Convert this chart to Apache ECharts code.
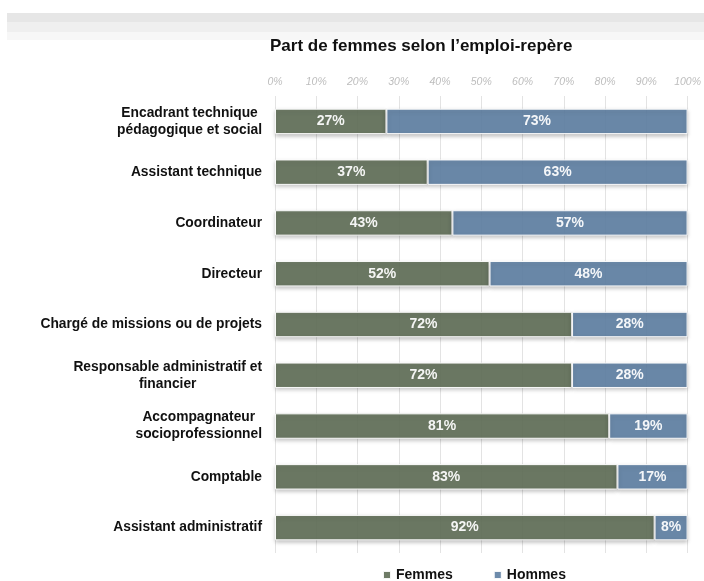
<!DOCTYPE html>
<html><head><meta charset="utf-8">
<script src="https://cdn.jsdelivr.net/npm/echarts@6/dist/echarts.min.js"></script>
<style>html,body{margin:0;padding:0;background:#fff}#c{width:704px;height:581px}</style>
</head><body><div id="c"></div>
<script>
const categories = [
  "Encadrant technique\npédagogique et social",
  "Assistant technique",
  "Coordinateur",
  "Directeur",
  "Chargé de missions ou de projets",
  "Responsable administratif et\nfinancier",
  "Accompagnateur\nsocioprofessionnel",
  "Comptable",
  "Assistant administratif"
];
const femmes = [27, 37, 43, 52, 72, 72, 81, 83, 92];
const hommes = [73, 63, 57, 48, 28, 28, 19, 17, 8];
const tickValues = [0,10,20,30,40,50,60,70,80,90,100];

const chart = echarts.init(document.getElementById('c'));
const FONT = '"Liberation Sans", Arial, sans-serif';
const barStyle = (color) => ({
  color: color, opacity: 0.93, borderColor: '#ffffff', borderWidth: 1,
  shadowColor: 'rgba(0,0,0,0.25)', shadowBlur: 4, shadowOffsetY: 2
});
const lbl = {show: true, position: 'inside', color: '#fff', fontWeight: 'bold', fontSize: 14, fontFamily: FONT, formatter: p => p.value + '%'};
chart.setOption({
  animation: false,
  textStyle: {fontFamily: FONT},
  graphic: [
    {type: 'rect', shape: {x: 7, y: 13, width: 697, height: 9}, style: {fill: '#e6e6e6'}},
    {type: 'rect', shape: {x: 7, y: 22, width: 697, height: 10}, style: {fill: '#efefef'}},
    {type: 'rect', shape: {x: 7, y: 32, width: 697, height: 8}, style: {fill: '#f7f7f7'}}
  ],
  title: {text: "Part de femmes selon l\u2019emploi-repère", left: 265, top: 33,
    textStyle: {fontSize: 17, fontWeight: 'bold', color: '#111', fontFamily: FONT}},
  legend: {top: 563, left: 377, itemWidth: 8, itemHeight: 8, itemGap: 40, icon: 'rect',
    textStyle: {fontSize: 14, fontWeight: 'bold', color: '#111', fontFamily: FONT},
    data: ['Femmes', 'Hommes']},
  grid: {left: 275, right: 16, top: 96, bottom: 28, containLabel: false},
  xAxis: {type: 'value', position: 'top', min: 0, max: 100, interval: 10,
    axisLine: {show: false}, axisTick: {show: false},
    splitLine: {show: true, lineStyle: {color: '#e3e3e3', width: 1}},
    axisLabel: {formatter: v => v + '%', color: '#bdbdbd', fontStyle: 'italic', fontSize: 10.5, margin: 8}},
  yAxis: {type: 'category', inverse: true, data: categories,
    axisLine: {show: false}, axisTick: {show: false}, splitLine: {show: false},
    axisLabel: {margin: 13, color: '#111', fontWeight: 'bold', fontSize: 13.8, lineHeight: 17,
      formatter: v => '{a|' + v.split('\n').join('}\n{a|') + '}',
      rich: {a: {align: 'center', fontWeight: 'bold', fontSize: 13.8, color: '#111', lineHeight: 17, fontFamily: FONT}}}},
  series: [
    {name: 'Femmes', type: 'bar', stack: 't', data: femmes, barWidth: '50%', itemStyle: barStyle('#63715a'), label: lbl},
    {name: 'Hommes', type: 'bar', stack: 't', data: hommes, barWidth: '50%', itemStyle: barStyle('#6282a5'), label: lbl}
  ]
});
</script></body></html>
